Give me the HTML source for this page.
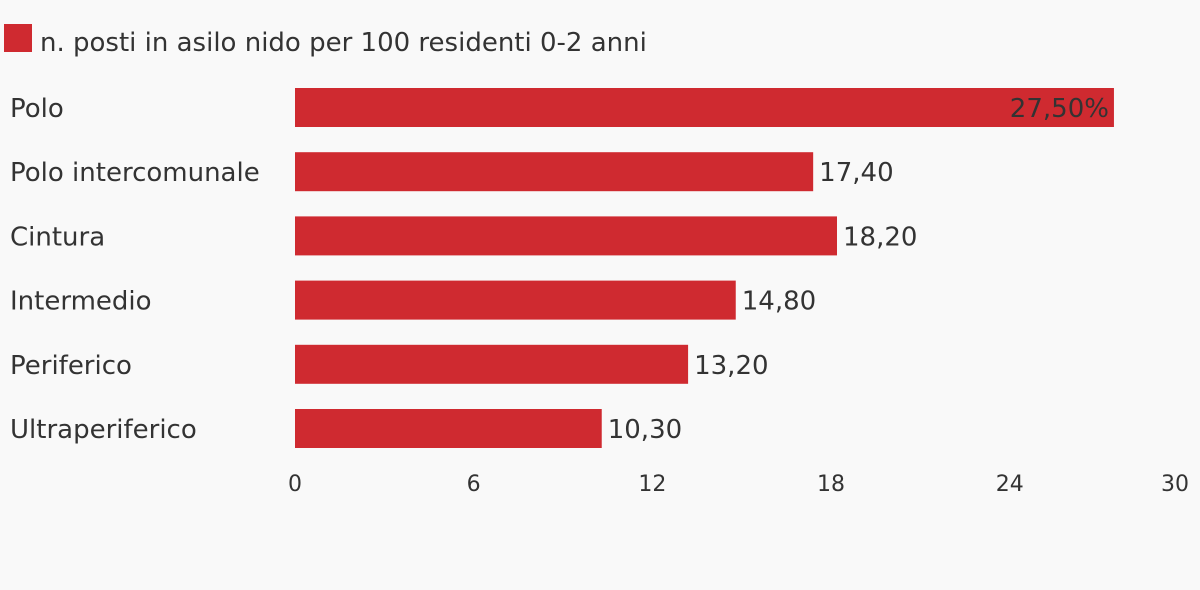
<!DOCTYPE html>
<html><head><meta charset="utf-8">
<style>
html,body{margin:0;padding:0;background:#f9f9f9;}
svg{display:block;font-family:"DejaVu Sans","Liberation Sans",sans-serif;}
</style></head>
<body>
<svg id="chart" width="1200" height="590">
<rect x="0" y="0" width="1200" height="590" fill="#f9f9f9"/>
<rect x="4" y="24" width="28" height="28" fill="#cf2a30"/>
<text x="40" y="51" font-size="26" fill="#333">n. posti in asilo nido per 100 residenti 0-2 anni</text>
<g id="bars"></g>
<g id="ticks"></g>
</svg>
<script>
const categories = ["Polo","Polo intercomunale","Cintura","Intermedio","Periferico","Ultraperiferico"];
const values = [27.5,17.4,18.2,14.8,13.2,10.3];
const valueLabels = ["27,50%","17,40","18,20","14,80","13,20","10,30"];
const tickValues = [0,6,12,18,24,30];
const tickLabels = ["0","6","12","18","24","30"];

const NS="http://www.w3.org/2000/svg";
const x0=295, pxPerUnit=29.78;
const xScale=v=>x0+v*pxPerUnit;
const bandTop=88, bandStep=64.2, barH=39;
const yScale=i=>bandTop+i*bandStep;
const gb=document.getElementById('bars');
categories.forEach((c,i)=>{
  const y=yScale(i);
  const lab=document.createElementNS(NS,'text');
  
  
  lab.setAttribute('x',10);lab.setAttribute('y',y+29);
  lab.setAttribute('font-size','26');lab.setAttribute('fill','#333');
  lab.textContent=c;gb.appendChild(lab);
  const r=document.createElementNS(NS,'rect');
  
  
  const xe=xScale(values[i]);
  r.setAttribute('x',x0);r.setAttribute('y',y);
  r.setAttribute('width',xe-x0);r.setAttribute('height',barH);
  r.setAttribute('fill','#cf2a30');gb.appendChild(r);
  const v=document.createElementNS(NS,'text');
  
  
  v.setAttribute('font-size','26');v.setAttribute('fill','#333');
  v.setAttribute('y',y+29);
  if(xe>1050){v.setAttribute('x',xe-5);v.setAttribute('text-anchor','end');}
  else{v.setAttribute('x',xe+6);}
  v.textContent=valueLabels[i];gb.appendChild(v);
});
const gt=document.getElementById('ticks');
tickValues.forEach((t,i)=>{
  const tx=document.createElementNS(NS,'text');
  
  
  let x=xScale(t), anchor='middle';
  if(x>1170){x=1189;anchor='end';}
  tx.setAttribute('x',x);tx.setAttribute('y',491);
  tx.setAttribute('text-anchor',anchor);
  tx.setAttribute('font-size','22');tx.setAttribute('fill','#333');
  tx.textContent=tickLabels[i];gt.appendChild(tx);
});
</script>
</body></html>
